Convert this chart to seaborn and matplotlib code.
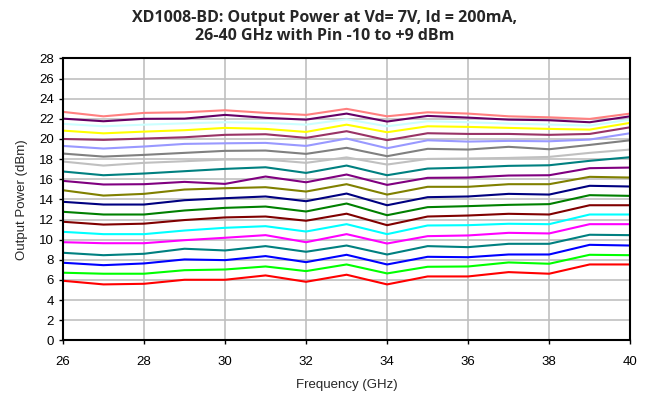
import pandas as pd
import numpy as np
import matplotlib
matplotlib.use('Agg')
import matplotlib.pyplot as plt
import seaborn as sns

# Frecuencias (GHz) y potencia de entrada (dBm)
freq = [26, 27, 28, 29, 30, 31, 32, 33, 34, 35, 36, 37, 38, 39, 40]
pin_levels = list(range(-10, 10))

# Potencia de salida (dBm), una lista por Pin
pout = {
    -10: [5.92, 5.56, 5.62, 6.02, 6.02, 6.45, 5.82, 6.52, 5.56, 6.35, 6.35, 6.78, 6.62, 7.54, 7.54],
    -9:  [6.72, 6.62, 6.62, 6.97, 7.04, 7.34, 6.88, 7.54, 6.65, 7.31, 7.34, 7.74, 7.61, 8.50, 8.46],
    -8:  [7.71, 7.47, 7.64, 8.04, 7.97, 8.37, 7.77, 8.50, 7.54, 8.30, 8.26, 8.53, 8.53, 9.49, 9.42],
    -7:  [8.70, 8.46, 8.60, 9.10, 8.93, 9.36, 8.80, 9.42, 8.53, 9.36, 9.26, 9.59, 9.59, 10.49, 10.45],
    -6:  [9.75, 9.65, 9.65, 9.95, 10.19, 10.45, 9.75, 10.55, 9.62, 10.35, 10.42, 10.68, 10.62, 11.54, 11.54],
    -5:  [10.78, 10.55, 10.55, 10.91, 11.18, 11.34, 10.81, 11.54, 10.55, 11.41, 11.44, 11.58, 11.54, 12.50, 12.50],
    -4:  [11.78, 11.50, 11.59, 11.95, 12.21, 12.30, 11.88, 12.58, 11.44, 12.30, 12.40, 12.57, 12.50, 13.42, 13.42],
    -3:  [12.77, 12.50, 12.50, 12.90, 13.16, 13.29, 12.80, 13.59, 12.43, 13.23, 13.33, 13.46, 13.53, 14.42, 14.35],
    -2:  [13.76, 13.49, 13.49, 13.92, 14.12, 14.29, 13.82, 14.58, 13.42, 14.22, 14.29, 14.55, 14.48, 15.35, 15.28],
    -1:  [14.91, 14.38, 14.55, 14.98, 15.11, 15.21, 14.78, 15.51, 14.48, 15.25, 15.25, 15.51, 15.51, 16.24, 16.17],
    0:   [15.84, 15.48, 15.51, 15.74, 15.54, 16.27, 15.70, 16.47, 15.44, 16.14, 16.17, 16.37, 16.40, 17.10, 17.16],
    1:   [16.77, 16.40, 16.57, 16.80, 17.03, 17.19, 16.63, 17.36, 16.40, 17.06, 17.16, 17.33, 17.39, 17.83, 18.19],
    2:   [17.76, 17.36, 17.63, 17.79, 17.96, 17.96, 17.63, 18.17, 17.46, 18.02, 18.06, 18.12, 18.22, 18.62, 18.95],
    3:   [18.55, 18.25, 18.42, 18.62, 18.82, 18.85, 18.52, 19.12, 18.29, 19.02, 18.95, 19.22, 18.98, 19.41, 19.87],
    4:   [19.31, 19.05, 19.25, 19.51, 19.57, 19.61, 19.31, 20.04, 19.08, 19.87, 19.74, 19.81, 19.77, 19.94, 20.57],
    5:   [20.00, 19.91, 20.04, 20.17, 20.41, 20.47, 20.11, 20.77, 19.88, 20.57, 20.50, 20.50, 20.41, 20.50, 21.16],
    6:   [20.83, 20.56, 20.73, 20.87, 21.10, 21.00, 20.70, 21.42, 20.67, 21.26, 21.20, 21.10, 21.00, 20.93, 21.60],
    7:   [21.50, 21.26, 21.42, 21.55, 21.66, 21.60, 21.42, 21.95, 21.26, 21.76, 21.66, 21.53, 21.43, 21.33, 21.92],
    8:   [22.02, 21.76, 22.00, 22.02, 22.39, 22.10, 21.92, 22.52, 21.73, 22.29, 22.12, 21.92, 21.86, 21.66, 22.25],
    9:   [22.69, 22.25, 22.59, 22.65, 22.85, 22.59, 22.39, 22.99, 22.25, 22.65, 22.52, 22.25, 22.15, 21.99, 22.52],
}

# Colores tipo Excel, de Pin -10 a +9
colores = ['#FF0000', '#00FF00', '#0000FF', '#008080', '#FF00FF', '#00FFFF',
           '#800000', '#008000', '#000080', '#808000', '#800080', '#008080',
           '#C0C0C0', '#808080', '#9999FF', '#993366', '#FFFF00', '#CCFFFF',
           '#660066', '#FF8080']

filas = []
for p in pin_levels:
    for f, v in zip(freq, pout[p]):
        filas.append({'Pin': p, 'Frecuencia': f, 'Pout': v})
df = pd.DataFrame(filas)

sns.set_style('white')
plt.rcParams['font.family'] = ['Liberation Sans', 'DejaVu Sans']

fig, ax = plt.subplots(figsize=(6.49, 4.0), dpi=100)
fig.subplots_adjust(left=0.097, right=0.971, top=0.854, bottom=0.149)

sns.lineplot(data=df, x='Frecuencia', y='Pout', hue='Pin', palette=colores,
             linewidth=1.5, legend=False, ax=ax)

ax.set_xlim(26, 40)
ax.set_ylim(0, 28)
ax.set_xticks(range(26, 41, 2))
ax.set_yticks(range(0, 29, 2))
ax.grid(True, color='#C0C0C0', linewidth=1.2)
ax.set_axisbelow(True)

for s in ax.spines.values():
    s.set_color('black')
    s.set_linewidth(1.5)

ax.tick_params(axis='both', direction='out', length=3, width=1, colors='black',
               labelsize=9.5, bottom=True, left=True)
ax.tick_params(axis='x', pad=8)

ax.set_xlabel('Frequency (GHz)', fontsize=9.5, labelpad=8)
ax.set_ylabel('Output Power (dBm)', fontsize=9.5, labelpad=8)

fig.suptitle('XD1008-BD: Output Power at Vd= 7V, Id = 200mA,\n26-40 GHz with Pin -10 to +9 dBm',
             x=0.5, y=0.975, fontsize=11.5, fontweight='bold', family=['Open Sans', 'DejaVu Sans'],
             linespacing=1.15)

plt.savefig('out.png', dpi=100)
